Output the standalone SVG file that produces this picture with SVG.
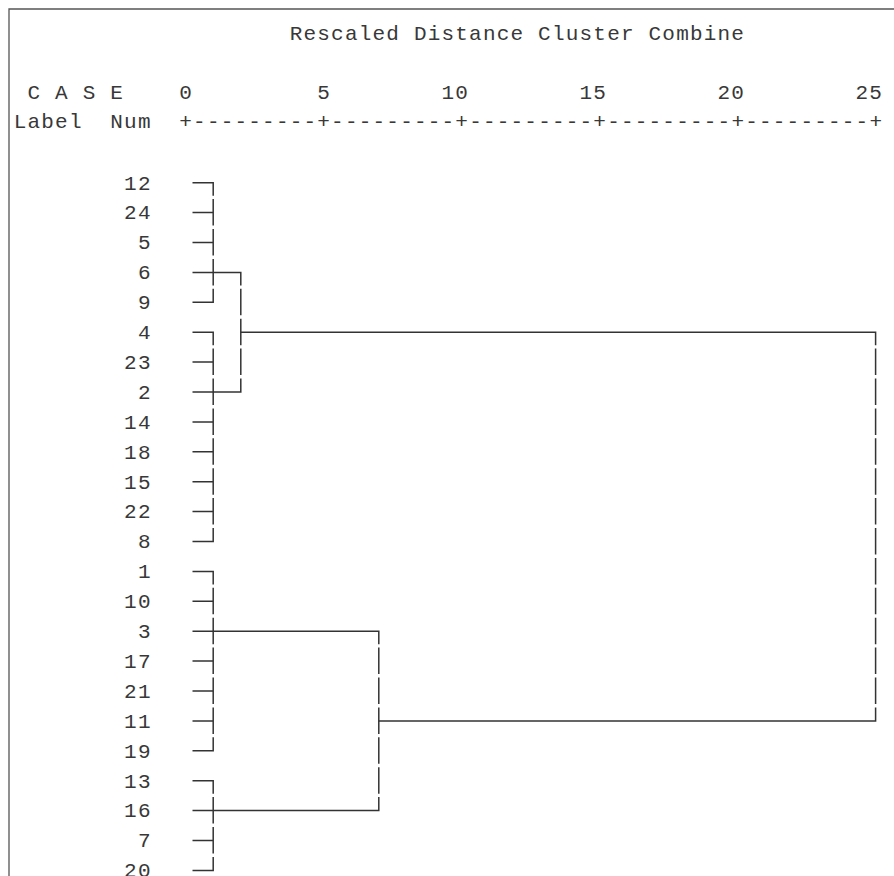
<svg xmlns="http://www.w3.org/2000/svg" width="894" height="876" viewBox="0 0 894 876">
<style>
text{font-family:"Liberation Mono","Courier New",monospace;font-size:21px;letter-spacing:1.2px;fill:#383838}
.ln{fill:none;stroke:#333;stroke-width:1.5;stroke-linejoin:miter}
.frame{fill:none;stroke:#555;stroke-width:1.3}
</style>
<rect width="894" height="876" fill="#fff"/>
<path class="frame" d="M9 876 V9 H894"/>
<g id="header">
<text x="289.7" y="39.5">Rescaled Distance Cluster Combine</text>
<text x="27.5" y="98.5">C A S E</text>
<text x="179.3" y="98.5">0</text>
<text x="317.3" y="98.5">5</text>
<text x="441.5" y="98.5">10</text>
<text x="579.5" y="98.5">15</text>
<text x="717.5" y="98.5">20</text>
<text x="855.5" y="98.5">25</text>
<text x="13.7" y="128.3">Label</text>
<text x="110.3" y="128.3">Num</text>
<text x="179.3" y="128.3">+---------+---------+---------+---------+---------+</text>
</g>
<g id="leaves">
<g id="case-12"><text x="124.1" y="189.5">12</text></g>
<g id="case-24"><text x="124.1" y="219.4">24</text></g>
<g id="case-5"><text x="137.9" y="249.3">5</text></g>
<g id="case-6"><text x="137.9" y="279.2">6</text></g>
<g id="case-9"><text x="137.9" y="309.1">9</text></g>
<g id="case-4"><text x="137.9" y="339">4</text></g>
<g id="case-23"><text x="124.1" y="368.9">23</text></g>
<g id="case-2"><text x="137.9" y="398.8">2</text></g>
<g id="case-14"><text x="124.1" y="428.7">14</text></g>
<g id="case-18"><text x="124.1" y="458.6">18</text></g>
<g id="case-15"><text x="124.1" y="488.5">15</text></g>
<g id="case-22"><text x="124.1" y="518.4">22</text></g>
<g id="case-8"><text x="137.9" y="548.3">8</text></g>
<g id="case-1"><text x="137.9" y="578.2">1</text></g>
<g id="case-10"><text x="124.1" y="608.1">10</text></g>
<g id="case-3"><text x="137.9" y="638">3</text></g>
<g id="case-17"><text x="124.1" y="667.9">17</text></g>
<g id="case-21"><text x="124.1" y="697.8">21</text></g>
<g id="case-11"><text x="124.1" y="727.7">11</text></g>
<g id="case-19"><text x="124.1" y="757.6">19</text></g>
<g id="case-13"><text x="124.1" y="787.5">13</text></g>
<g id="case-16"><text x="124.1" y="817.4">16</text></g>
<g id="case-7"><text x="137.9" y="847.3">7</text></g>
<g id="case-20"><text x="124.1" y="877">20</text></g>
</g>
<g id="connectors" class="ln">
<path d="M192.5 182.7 H213.2 V195.7"/>
<path d="M192.5 212.6 H213.2 M213.2 199.1 V225.6"/>
<path d="M192.5 242.5 H213.2 M213.2 229 V255.5"/>
<path d="M192.5 272.4 H240.8 V285.4 M213.2 258.9 V285.4"/>
<path d="M192.5 302.3 H213.2 V288.8"/>
<path d="M192.5 332.2 H213.2 V345.2"/>
<path d="M192.5 362.1 H213.2 M213.2 348.6 V375.1"/>
<path d="M192.5 392 H240.8 V378.5 M213.2 378.5 V405"/>
<path d="M192.5 421.9 H213.2 M213.2 408.4 V434.9"/>
<path d="M192.5 451.8 H213.2 M213.2 438.3 V464.8"/>
<path d="M192.5 481.7 H213.2 M213.2 468.2 V494.7"/>
<path d="M192.5 511.6 H213.2 M213.2 498.1 V524.6"/>
<path d="M192.5 541.5 H213.2 V528"/>
<path d="M240.8 288.8 V315.3 M240.8 318.7 V345.2 M240.8 348.6 V375.1"/>
<path d="M192.5 571.4 H213.2 V584.4"/>
<path d="M192.5 601.3 H213.2 M213.2 587.8 V614.3"/>
<path d="M192.5 631.2 H378.8 V644.2 M213.2 617.7 V644.2"/>
<path d="M192.5 661.1 H213.2 M213.2 647.6 V674.1"/>
<path d="M192.5 691 H213.2 M213.2 677.5 V704"/>
<path d="M192.5 720.9 H213.2 M213.2 707.4 V733.9"/>
<path d="M192.5 750.8 H213.2 V737.3"/>
<path d="M192.5 780.7 H213.2 V793.7"/>
<path d="M192.5 810.6 H378.8 V797.1 M213.2 797.1 V823.6"/>
<path d="M192.5 840.5 H213.2 M213.2 827 V853.5"/>
<path d="M192.5 870.4 H213.2 V856.9"/>
<path d="M378.8 647.6 V674.1 M378.8 677.5 V704 M378.8 707.4 V733.9 M378.8 737.3 V763.8 M378.8 767.2 V793.7"/>
<path d="M240.8 332.2 H875.6 V345.2"/>
<path d="M378.8 720.9 H875.6 V707.4"/>
<path d="M875.6 348.6 V375.1 M875.6 378.5 V405 M875.6 408.4 V434.9 M875.6 438.3 V464.8 M875.6 468.2 V494.7 M875.6 498.1 V524.6 M875.6 528 V554.5 M875.6 557.9 V584.4 M875.6 587.8 V614.3 M875.6 617.7 V644.2 M875.6 647.6 V674.1 M875.6 677.5 V704"/>
</g>
</svg>
